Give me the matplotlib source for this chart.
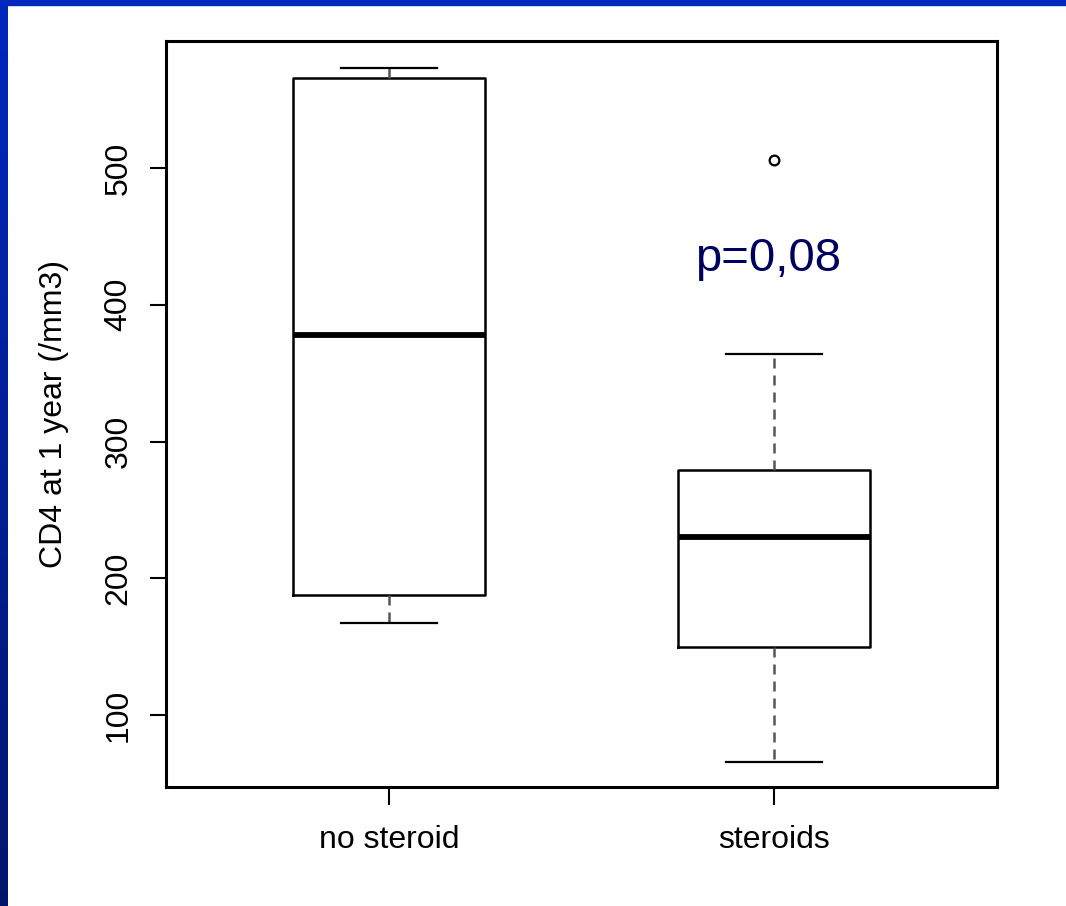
import matplotlib.pyplot as plt
from matplotlib.patches import Rectangle
import numpy as np

# data
groups = ["no steroid", "steroids"]
medians = [378, 230]
q1 = [188, 150]
q3 = [566, 279]
whis_lo = [167, 66]
whis_hi = [573, 364]
fliers = [[], [506]]
p_text = "p=0,08"

plt.rcParams['font.family'] = ['Liberation Sans', 'DejaVu Sans']

fig = plt.figure(figsize=(10.66, 9.06), dpi=100)

# blue slide border (left strip gradient + top bar)
strip = fig.add_axes([0, 0, 8 / 1066, 1])
grad = np.linspace(0, 1, 256).reshape(-1, 1)
top_c = np.array([0, 40, 190]) / 255.0
bot_c = np.array([0, 22, 110]) / 255.0
img = top_c[None, None, :] * (1 - grad[:, :, None]) + bot_c[None, None, :] * grad[:, :, None]
strip.imshow(img, aspect='auto', extent=[0, 1, 0, 1])
strip.axis('off')
fig.patches.append(Rectangle((0, 1 - 5 / 906), 1, 5 / 906, transform=fig.transFigure,
                             color=top_c, zorder=5))

ax = fig.add_axes([166 / 1066, 1 - 787 / 906, 831 / 1066, 746 / 906])

stats = []
for i in range(len(groups)):
    stats.append(dict(med=medians[i], q1=q1[i], q3=q3[i],
                      whislo=whis_lo[i], whishi=whis_hi[i],
                      fliers=fliers[i], label=groups[i]))

pos = np.arange(1, len(groups) + 1)
ax.bxp(stats, positions=pos, widths=0.5, showfliers=True,
       boxprops=dict(color='black', lw=1.8),
       medianprops=dict(color='black', lw=4.2, solid_capstyle='butt'),
       whiskerprops=dict(color='#555555', lw=1.8, linestyle=(0, (4, 2.8))),
       capprops=dict(color='black', lw=1.6),
       capwidths=0.25,
       flierprops=dict(marker='o', mfc='none', mec='black', ms=7, mew=1.6))

ax.set_xlim(0.42, 2.58)
ax.set_ylim(47.4, 592.9)
ax.set_xticks(pos)
ax.set_xticklabels(groups, fontsize=23)
ax.set_yticks([100, 200, 300, 400, 500])
ax.set_yticklabels(['100', '200', '300', '400', '500'], fontsize=23,
                   rotation=90, va='center')
ax.tick_params(axis='y', length=11.5, width=1.5, pad=12)
ax.tick_params(axis='x', length=13, width=1.5, pad=14)
for s in ax.spines.values():
    s.set_linewidth(2.2)

ax.set_ylabel("CD4 at 1 year (/mm3)", fontsize=23)
ax.yaxis.set_label_coords(-0.117, 0.5)

ax.text(1.985, 424.7, p_text, fontsize=34, color='#00005e', ha='center', va='baseline')

fig.savefig("out.png", dpi=100)
